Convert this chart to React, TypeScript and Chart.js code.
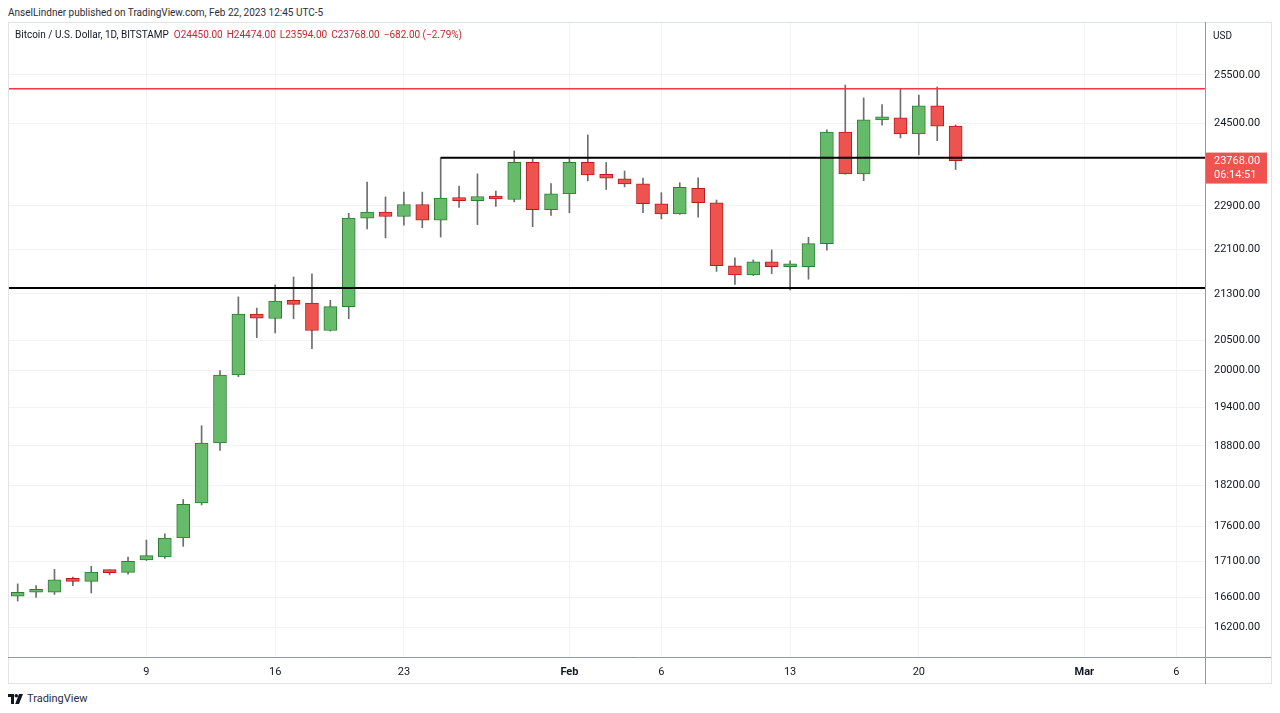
import React, { useEffect, useRef } from 'react';
import { Chart, registerables } from 'chart.js';

Chart.register(...registerables);

// ---- Data (BTC/USD, 1D, Bitstamp) ----
const dates = [
  'Jan 2', 'Jan 3', 'Jan 4', 'Jan 5', 'Jan 6', 'Jan 7', 'Jan 8', 'Jan 9', 'Jan 10', 'Jan 11',
  'Jan 12', 'Jan 13', 'Jan 14', 'Jan 15', 'Jan 16', 'Jan 17', 'Jan 18', 'Jan 19', 'Jan 20', 'Jan 21',
  'Jan 22', 'Jan 23', 'Jan 24', 'Jan 25', 'Jan 26', 'Jan 27', 'Jan 28', 'Jan 29', 'Jan 30', 'Jan 31',
  'Feb 1', 'Feb 2', 'Feb 3', 'Feb 4', 'Feb 5', 'Feb 6', 'Feb 7', 'Feb 8', 'Feb 9', 'Feb 10',
  'Feb 11', 'Feb 12', 'Feb 13', 'Feb 14', 'Feb 15', 'Feb 16', 'Feb 17', 'Feb 18', 'Feb 19', 'Feb 20',
  'Feb 21', 'Feb 22',
];
const opens = [
  16615, 16670, 16672, 16840, 16820, 16955, 16945, 17120, 17160, 17430,
  17940, 18845, 19930, 20950, 20875, 21190, 21140, 20670, 21080, 22670,
  22784, 22700, 22926, 22630, 23057, 23000, 23076, 23020, 23735, 22827,
  23127, 23735, 23500, 23412, 23316, 22940, 22750, 23232, 22958, 21800,
  21636, 21871, 21782, 21782, 22200, 24329, 23508, 24576, 24620, 24295,
  24860, 24450,
];
const highs = [
  16785, 16760, 16985, 16880, 17030, 16980, 17160, 17400, 17490, 17990,
  19115, 20000, 21250, 21055, 21460, 21600, 21657, 21190, 22760, 23350,
  23070, 23160, 23160, 23825, 23275, 23510, 23180, 23955, 23800, 23325,
  23800, 24275, 23730, 23565, 23430, 23150, 23340, 23435, 23010, 21942,
  21906, 22086, 21890, 22315, 24375, 25290, 25025, 24886, 25220, 25080,
  25250, 24474,
];
const lows = [
  16550, 16600, 16640, 16760, 16660, 16910, 16920, 17110, 17140, 17310,
  17910, 18730, 19900, 20550, 20630, 20870, 20365, 20660, 20870, 22470,
  22305, 22540, 22490, 22320, 22870, 22550, 22890, 22975, 22510, 22720,
  22770, 23375, 23210, 23260, 22770, 22655, 22740, 22690, 21700, 21467,
  21625, 21660, 21370, 21560, 22080, 23505, 23380, 24470, 24215, 23880,
  24160, 23594,
];
const closes = [
  16670, 16672, 16840, 16820, 16950, 16940, 17100, 17180, 17430, 17920,
  18845, 19928, 20950, 20880, 21177, 21120, 20670, 21080, 22673, 22784,
  22700, 22926, 22630, 23045, 23000, 23076, 23030, 23735, 22827, 23127,
  23735, 23490, 23425, 23316, 22940, 22750, 23251, 22958, 21800, 21636,
  21871, 21782, 21790, 22200, 24329, 23508, 24576, 24640, 24295, 24860,
  24450, 23768,
];

const priceTicks = [25500, 24500, 22900, 22100, 21300, 20500, 20000, 19400, 18800, 18200, 17600, 17100, 16600, 16200];
const timeTickIdx = [7, 14, 21, 30, 35, 42, 49, 58, 63];
const timeTickLabels = ['9', '16', '23', 'Feb', '6', '13', '20', 'Mar', '6'];
const boldTimeLabels = ['Feb', 'Mar'];

const resistanceLevel = 23825;
const resistanceStartIdx = 23;
const supportLevel = 21405;
const redLevel = 25215;

const yMin = 15806;
const yMax = 26635;
const xMin = -0.527;
const xMax = 64.56;

const countdownText = '06:14:51';

// ---- Styles ----
const FONT = 'Roboto, "Noto Sans", sans-serif';
const UP_FILL = '#66bb6a';
const UP_BORDER = '#2e7d32';
const DOWN_FILL = '#ef5350';
const DOWN_BORDER = '#b71c1c';
const WICK = '#6e6e70';
const GRID = '#f2f3f6';
const TEXT = '#131722';

const overlayPlugin = {
  id: 'tvOverlay',
  afterDraw(chart: any) {
    const { ctx, chartArea, width, height } = chart;
    const last = closes.length - 1;
    const y = chart.scales.y.getPixelForValue(closes[last]);
    const r = Math.round(chartArea.right) + 0.5;
    const b = Math.round(chartArea.bottom) + 0.5;
    ctx.save();
    ctx.strokeStyle = '#e0e3eb';
    ctx.lineWidth = 1;
    ctx.strokeRect(0.5, 0.5, width - 1, height - 1);
    ctx.strokeStyle = '#9598a1';
    ctx.beginPath();
    ctx.moveTo(r, 0);
    ctx.lineTo(r, height);
    ctx.moveTo(0, b);
    ctx.lineTo(width - 1, b);
    ctx.stroke();
    // last price label
    ctx.fillStyle = DOWN_FILL;
    ctx.fillRect(r + 0.5, y - 8, 61, 31);
    ctx.fillStyle = '#ffffff';
    ctx.font = `11px ${FONT}`;
    ctx.textAlign = 'left';
    ctx.textBaseline = 'middle';
    ctx.fillText(closes[last].toFixed(2), r + 8.5, y + 0.5);
    ctx.fillText(countdownText, r + 8.5, y + 14.5);
    ctx.restore();
  },
};

function CandleChart() {
  const ref = useRef<HTMLCanvasElement | null>(null);
  useEffect(() => {
    if (!ref.current) return;
    const idx = closes.map((_, i) => i);
    const isUp = (i: number) => closes[i] >= opens[i];
    const chart = new Chart(ref.current, {
      type: 'bar',
      data: {
        labels: dates,
        datasets: [
          {
            type: 'line',
            data: [{ x: resistanceStartIdx, y: resistanceLevel }, { x: xMax, y: resistanceLevel }],
            borderColor: '#000000',
            borderWidth: 2,
            pointRadius: 0,
            order: 0,
          } as any,
          {
            type: 'line',
            data: [{ x: xMin, y: supportLevel }, { x: xMax, y: supportLevel }],
            borderColor: '#000000',
            borderWidth: 2,
            pointRadius: 0,
            order: 0,
          } as any,
          {
            type: 'line',
            data: [{ x: xMin, y: redLevel }, { x: xMax, y: redLevel }],
            borderColor: '#f23645',
            borderWidth: 1.5,
            pointRadius: 0,
            order: 0,
          } as any,
          {
            type: 'bar',
            data: idx.map((i) => ({ x: i, y: [opens[i], closes[i]] })),
            backgroundColor: idx.map((i) => (isUp(i) ? UP_FILL : DOWN_FILL)),
            borderColor: idx.map((i) => (isUp(i) ? UP_BORDER : DOWN_BORDER)),
            borderWidth: 1,
            borderSkipped: false,
            barThickness: 13,
            grouped: false,
            minBarLength: 3,
            order: 1,
          } as any,
          {
            type: 'bar',
            data: idx.map((i) => ({ x: i, y: [lows[i], highs[i]] })),
            backgroundColor: WICK,
            borderWidth: 0,
            barThickness: 1,
            grouped: false,
            order: 2,
          } as any,
        ],
      },
      options: {
        animation: false,
        responsive: false,
        events: [],
        layout: { padding: 0 },
        plugins: { legend: { display: false }, tooltip: { enabled: false }, title: { display: false } },
        scales: {
          x: {
            type: 'linear',
            min: xMin,
            max: xMax,
            offset: false,
            grid: { color: GRID, drawTicks: false, offset: false },
            border: { display: false },
            ticks: {
              autoSkip: false,
              maxRotation: 0,
              padding: 9,
              color: TEXT,
              font: (c: any) => ({
                family: FONT,
                size: 11,
                weight: boldTimeLabels.includes(timeTickLabels[c.index]) ? 'bold' : 'normal',
              }),
              callback: (_v: any, i: number) => timeTickLabels[i],
            },
            afterBuildTicks: (s: any) => {
              s.ticks = timeTickIdx.map((v) => ({ value: v }));
            },
            afterFit: (s: any) => {
              s.height = 27;
              s.paddingLeft = 0;
              s.paddingRight = 0;
            },
          } as any,
          y: {
            type: 'logarithmic',
            position: 'right',
            min: yMin,
            max: yMax,
            grid: { color: GRID, drawTicks: false },
            border: { display: false },
            ticks: {
              autoSkip: false,
              padding: 9,
              color: TEXT,
              font: { family: FONT, size: 11 },
              callback: (v: any) => Number(v).toFixed(2),
            },
            afterBuildTicks: (s: any) => {
              s.ticks = priceTicks.map((v) => ({ value: v }));
            },
            afterFit: (s: any) => {
              s.width = 67;
              s.paddingTop = 0;
              s.paddingBottom = 0;
            },
          } as any,
        },
      },
      plugins: [overlayPlugin],
    });
    return () => chart.destroy();
  }, []);
  return <canvas ref={ref} width={1264} height={662} style={{ position: 'absolute', left: 8, top: 22, width: 1264, height: 662 }} />;
}

export default function App() {
  return (
    <div style={{ position: 'absolute', left: 0, top: 0, width: 1280, height: 713, background: '#ffffff', fontFamily: FONT, color: TEXT, overflow: 'hidden' }}>
      <div style={{ position: 'absolute', left: 8, top: 7, fontSize: 10, lineHeight: '12px', color: '#2a2e39', whiteSpace: 'nowrap' }}>
        AnselLindner published on TradingView.com, Feb 22, 2023 12:45 UTC-5
      </div>
      <CandleChart />
      <div style={{ position: 'absolute', left: 15, top: 29, fontSize: 10, lineHeight: '12px', whiteSpace: 'nowrap' }}>
        <span style={{ color: TEXT }}>Bitcoin / U.S. Dollar, 1D, BITSTAMP</span>
        <span style={{ color: '#c62828', marginLeft: 5 }}>O24450.00</span>
        <span style={{ color: '#c62828', marginLeft: 4 }}>H24474.00</span>
        <span style={{ color: '#c62828', marginLeft: 4 }}>L23594.00</span>
        <span style={{ color: '#c62828', marginLeft: 4 }}>C23768.00</span>
        <span style={{ color: '#c62828', marginLeft: 4 }}>−682.00 (−2.79%)</span>
      </div>
      <div style={{ position: 'absolute', left: 1213, top: 30, fontSize: 10, lineHeight: '12px', whiteSpace: 'nowrap' }}>USD</div>
      <div style={{ position: 'absolute', left: 8, top: 693, height: 12, display: 'flex', alignItems: 'center' }}>
        <svg width="15" height="10" viewBox="0 0 15 10">
          <path d="M0 0 H6 V10 H3 V3 H0 Z" fill="#131722" />
          <circle cx="8.3" cy="1.8" r="1.8" fill="#131722" />
          <path d="M11 0 H15 L11 10 H7.2 Z" fill="#131722" />
        </svg>
        <span style={{ marginLeft: 4, fontSize: 11, lineHeight: '12px', color: '#2a2e39' }}>TradingView</span>
      </div>
    </div>
  );
}
